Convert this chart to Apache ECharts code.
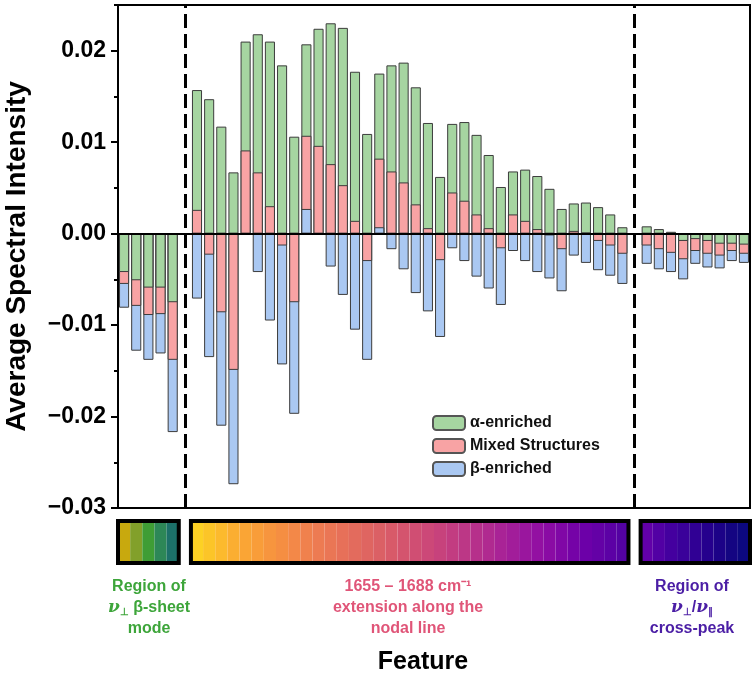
<!DOCTYPE html>
<html>
<head>
<meta charset="utf-8">
<script src="https://cdn.jsdelivr.net/npm/echarts@6/dist/echarts.min.js"></script>
<style>
  html, body { margin: 0; padding: 0; background: #fff; }
  #chart { width: 753px; height: 684px; }
</style>
</head>
<body>
<div id="chart"></div>
<script>
//Données : 52 positions, les positions 6 et 43 sont vides (séparateurs)
const features = [];
for (let i = 1; i <= 52; i++) features.push('F' + i);

const alpha = [
  -0.0042, -0.0051, -0.0059, -0.0059, -0.0075,
  null,
  0.0157, 0.0147, 0.0117, 0.0067, 0.0210, 0.0218, 0.0210, 0.0184, 0.0106, 0.0207,
  0.0224, 0.0230, 0.0225, 0.0177, 0.0109, 0.0175, 0.0184, 0.0187, 0.0160, 0.0121,
  0.0062, 0.0120, 0.0122, 0.0108, 0.0086, 0.0051, 0.0068, 0.0070, 0.0063, 0.0049,
  0.0027, 0.0033, 0.0034, 0.0029, 0.0021, 0.0007,
  null,
  0.0008, 0.0005, 0.0002, -0.0008, -0.0006, -0.0008, -0.0011, -0.0011, -0.0012
];
const mixed = [
  -0.0055, -0.0079, -0.0089, -0.0088, -0.0138,
  null,
  0.0026, -0.0023, -0.0086, -0.0149, 0.0091, 0.0067, 0.0030, -0.0013, -0.0075, 0.0107,
  0.0096, 0.0076, 0.0053, 0.0014, -0.0030, 0.0082, 0.0068, 0.0056, 0.0032, 0.0006,
  -0.0029, 0.0045, 0.0036, 0.0021, 0.0006, -0.0016, 0.0021, 0.0014, 0.0005, -0.0002,
  -0.0017, 0.0003, 0.0001, -0.0008, -0.0013, -0.0022,
  null,
  -0.0013, -0.0017, -0.0021, -0.0028, -0.0019, -0.0022, -0.0024, -0.0019, -0.0022
];
const beta = [
  -0.0081, -0.0128, -0.0138, -0.0131, -0.0217,
  null,
  -0.0071, -0.0135, -0.0210, -0.0274, 0.0000, -0.0042, -0.0095, -0.0143, -0.0197, 0.0027,
  0.0000, -0.0036, -0.0067, -0.0105, -0.0138, 0.0007, -0.0017, -0.0039, -0.0065, -0.0085,
  -0.0113, -0.0016, -0.0030, -0.0047, -0.0060, -0.0078, -0.0019, -0.0030, -0.0042, -0.0049,
  -0.0063, -0.0024, -0.0032, -0.0040, -0.0046, -0.0055,
  null,
  -0.0033, -0.0039, -0.0042, -0.0050, -0.0033, -0.0037, -0.0038, -0.0030, -0.0032
];

const names = ['α-enriched', 'Mixed Structures', 'β-enriched'];
const colors = ['#a6d5a1', '#f8a3a4', '#aac8f2'];

//Bandes de couleur sous le graphique
const bandLeft = ['#c8a90e', '#82a02a', '#3f9d35', '#2d8757', '#1c7069'];
const bandMidStops = ['#fdd124', '#fbac32', '#f7923f', '#ef7e50', '#e46c5c', '#d85b69',
  '#cc4778', '#bb3587', '#a62098', '#8e0ca4', '#6d00a8', '#5402a3'];
const bandRight = ['#6200a8', '#5200a4', '#44009f', '#3a019a', '#300094', '#25008d',
  '#1c0287', '#140582', '#0c0880'];

const font = 'Liberation Sans';

//Superposition : la barre la plus courte est devant
const layers = [[], [], []];
for (let i = 0; i < features.length; i++) {
  if (alpha[i] === null) { layers.forEach(l => l.push(null)); continue; }
  const items = [[alpha[i], 0], [mixed[i], 1], [beta[i], 2]]
    .sort((p, q) => Math.abs(q[0]) - Math.abs(p[0]));
  items.forEach((it, k) => layers[k].push({ value: it[0], itemStyle: { color: colors[it[1]] } }));
}

const bandData = [];
let m = 0, r = 0;
for (let i = 0; i < features.length; i++) {
  if (i < 5) bandData.push({ value: 1, itemStyle: { color: bandLeft[i] } });
  else if (i === 5 || i === 42) bandData.push(null);
  else if (i < 42) { bandData.push({ value: 1, itemStyle: { color: echarts.color.lerp(m / 35, bandMidStops) } }); m++; }
  else { bandData.push({ value: 1, itemStyle: { color: bandRight[r] } }); r++; }
}

const barBorder = { borderColor: '#3c3c3c', borderWidth: 1 };

const series = layers.map((data, k) => ({
  type: 'bar',
  xAxisIndex: 0, yAxisIndex: 0,
  barGap: '-100%',
  barCategoryGap: '17%',
  z: 3 + k,
  itemStyle: barBorder,
  data: data,
  markLine: k === 0 ? {
    silent: true,
    symbol: 'none',
    label: { show: false },
    lineStyle: { color: '#000', width: 3, type: [14, 6] },
    data: [{ xAxis: features[5] }, { xAxis: features[42] }]
  } : undefined
}));

//Séries vides pour la légende
names.forEach((n, k) => series.push({
  type: 'bar', name: n, xAxisIndex: 0, yAxisIndex: 0,
  barGap: '-100%', barCategoryGap: '17%',
  itemStyle: { color: colors[k], borderColor: '#555', borderWidth: 1 },
  data: []
}));

series.push({
  type: 'bar', xAxisIndex: 1, yAxisIndex: 2,
  barCategoryGap: '0%', silent: true,
  data: bandData
});

let chart = echarts.init(document.getElementById('chart'));

chart.setOption({
  backgroundColor: '#fff',
  animation: false,
  grid: [
    { left: 118, right: 3, top: 5, bottom: 176, show: true, borderColor: '#000', borderWidth: 2, outerBoundsMode: 'none' },
    { left: 118, right: 3, top: 521, height: 42, outerBoundsMode: 'none' }
  ],
  legend: {
    data: names,
    orient: 'vertical',
    left: 427, top: 410,
    itemWidth: 32, itemHeight: 14, itemGap: 7,
    selectedMode: false,
    textStyle: { fontFamily: font, fontWeight: 'bold', fontSize: 16, color: '#111' }
  },
  xAxis: [
    {
      type: 'category', gridIndex: 0, data: features, z: 10,
      axisLine: { onZero: true, lineStyle: { color: '#000', width: 2 } },
      axisTick: { show: false }, axisLabel: { show: false }
    },
    { type: 'category', gridIndex: 1, data: features, show: false }
  ],
  yAxis: [
    {
      type: 'value', gridIndex: 0, min: -0.03, max: 0.025, interval: 0.01,
      name: 'Average Spectral Intensity',
      nameLocation: 'middle', nameGap: 87,
      nameTextStyle: { fontFamily: font, fontWeight: 'bold', fontSize: 28, color: '#000' },
      axisLine: { show: true, lineStyle: { color: '#000', width: 2 } },
      axisTick: { show: true, length: 7, lineStyle: { color: '#000', width: 2 } },
      splitLine: { show: false },
      axisLabel: {
        showMaxLabel: false, margin: 12,
        fontFamily: font, fontWeight: 'bold', fontSize: 23, color: '#000',
        formatter: v => (v < -1e-9 ? '\u2212' : '') + Math.abs(v).toFixed(2)
      }
    },
    {
      type: 'value', gridIndex: 0, min: -0.03, max: 0.025, interval: 0.005, position: 'left',
      axisLine: { show: false }, splitLine: { show: false }, axisLabel: { show: false },
      axisTick: { show: true, length: 4, lineStyle: { color: '#000', width: 2 } }
    },
    { type: 'value', gridIndex: 1, min: 0, max: 1, show: false }
  ],
  series: series
});

//Cadres noirs autour des bandes + textes sous le graphique
function box(a, b) {
  const p0 = chart.convertToPixel({ xAxisIndex: 1 }, features[a]);
  const p1 = chart.convertToPixel({ xAxisIndex: 1 }, features[b]);
  const band = chart.convertToPixel({ xAxisIndex: 1 }, features[1]) - chart.convertToPixel({ xAxisIndex: 1 }, features[0]);
  return {
    type: 'rect', silent: true, z: 20,
    shape: { x: p0 - band / 2, y: 521, width: p1 - p0 + band, height: 42 },
    style: { fill: 'none', stroke: '#000', lineWidth: 4 }
  };
}

function txt(x, y, text, color, extra) {
  return {
    type: 'text', silent: true, z: 20, x: x, y: y,
    style: Object.assign({
      text: text, fill: color, align: 'center', verticalAlign: 'middle',
      font: 'bold 16px "' + font + '"'
    }, extra || {})
  };
}

const greek = c => ({
  v: { fontFamily: 'DejaVu Serif', fontStyle: 'italic', fontWeight: 'bold', fontSize: 17, fill: c },
  s: { fontFamily: font, fontWeight: 'bold', fontSize: 10, fill: c, padding: [9, 0, 0, 0] },
  t: { fontFamily: font, fontWeight: 'bold', fontSize: 16, fill: c }
});

const cG = '#3da53a', cP = '#e05578', cV = '#4b1ea5';

chart.setOption({
  graphic: [
    box(0, 4), box(6, 41), box(43, 51),
    txt(149, 587, 'Region of', cG),
    txt(149, 608, '{v|ν}{s|⊥}{t| β-sheet}', cG, { rich: greek(cG) }),
    txt(149, 629, 'mode', cG),
    txt(408, 587, '1655 – 1688 cm⁻¹', cP),
    txt(408, 608, 'extension along the', cP),
    txt(408, 629, 'nodal line', cP),
    txt(692, 587, 'Region of', cV),
    txt(692, 608, '{v|ν}{s|⊥}{t|/}{v|ν}{s|∥}', cV, { rich: greek(cV) }),
    txt(692, 629, 'cross-peak', cV),
    txt(423, 662, 'Feature', '#000', { font: 'bold 25px "' + font + '"' })
  ]
});

window.addEventListener('resize', () => chart.resize());
</script>
</body>
</html>
